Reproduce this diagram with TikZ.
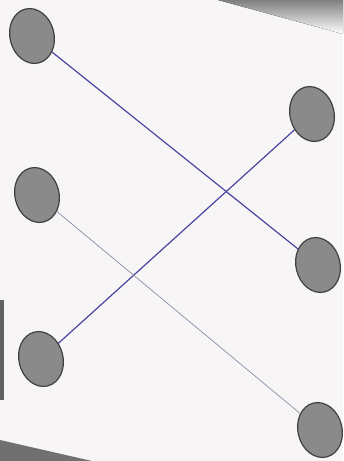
\documentclass[tikz,border=0pt]{standalone}
\usetikzlibrary{shapes.geometric}
\definecolor{paper}{HTML}{F7F5F5}
\definecolor{shade}{HTML}{8C8C8C}
\definecolor{dotgrey}{HTML}{8A8A8A}
\definecolor{pen}{HTML}{4646A0}
\definecolor{pencil}{HTML}{8A88A8}
\begin{document}
\begin{tikzpicture}[
  x=0.0265cm,y=-0.0265cm,
  dot/.style={ellipse,draw=black!75,line width=0.9pt,fill=dotgrey,minimum width=1.17cm,minimum height=1.47cm,inner sep=0pt,rotate=14},
  link/.style={draw=pen,line width=0.9pt},
  thinlink/.style={draw=pencil,line width=0.5pt}
]
\fill[paper] (0,0) rectangle (343,461);
\useasboundingbox (0,0) rectangle (343,461);
% photo edges
\fill[shade] (218,0) -- (343,0) -- (343,34) -- cycle;
\fill[shade!80!black] (0,440) -- (92,461) -- (0,461) -- cycle;
\fill[shade!70!black] (0,300) -- (4,300) -- (4,400) -- (0,400) -- cycle;
% nodes
\node[dot] (l1) at (32,36) {};
\node[dot] (l2) at (37,195) {};
\node[dot] (l3) at (41,359) {};
\node[dot] (r1) at (312,114) {};
\node[dot] (r2) at (318,265) {};
\node[dot] (r3) at (320,430) {};
% connectors
\draw[link] (l1) -- (r2);
\draw[link] (l3) -- (r1);
\draw[thinlink] (l2) -- (r3);
\end{tikzpicture}
\end{document}
